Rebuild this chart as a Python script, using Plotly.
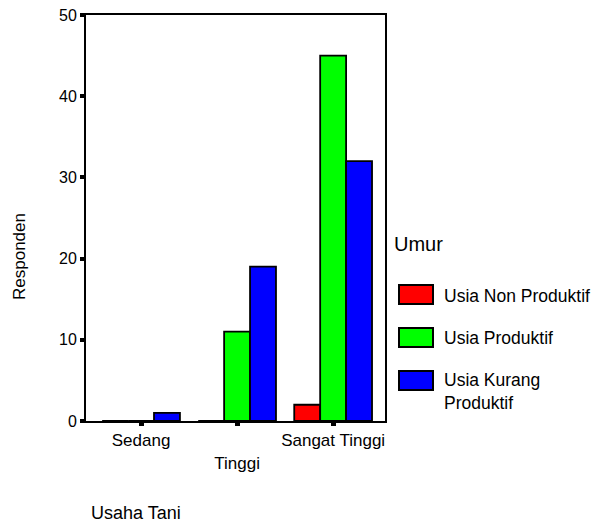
import plotly.graph_objects as go

categories = ["Sedang", "Tinggi", "Sangat Tinggi"]
tick_labels = ["Sedang", "<br>Tinggi", "Sangat Tinggi"]
series_names = ["Usia Non Produktif", "Usia Produktif", "Usia Kurang Produktif"]
legend_labels = ["Usia Non Produktif", "Usia Produktif", "Usia Kurang<br>Produktif"]
non_produktif = [0, 0, 2]
produktif = [0, 11, 45]
kurang_produktif = [1, 19, 32]
colors = ["#FF0000", "#00FF00", "#0000FF"]

FONT = "Arial, Liberation Sans, sans-serif"
W, H = 605, 525
L, R, T, B = 86, 385, 15, 421

def px(x):
    return (x - L) / (R - L)

def py(y):
    return (B - y) / (B - T)

fig = go.Figure()
for name, vals, c in zip(series_names, [non_produktif, produktif, kurang_produktif], colors):
    fig.add_trace(go.Bar(
        x=list(range(len(categories))), y=vals, name=name,
        marker=dict(color=c, line=dict(color="black", width=1.8)),
        showlegend=False, hoverinfo="skip",
    ))

fig.update_layout(
    width=W, height=H,
    margin=dict(l=L, r=W - R, t=T, b=H - B, pad=0, autoexpand=False),
    paper_bgcolor="white", plot_bgcolor="white",
    barmode="group", bargap=0.19, bargroupgap=0,
    font=dict(family=FONT, color="black", size=17),
)
fig.update_xaxes(
    range=[-0.573, 2.54], tickmode="array", tickvals=list(range(len(categories))),
    ticktext=tick_labels, ticks="outside", ticklen=3, tickwidth=5, tickcolor="black",
    showline=True, linecolor="black", linewidth=2, mirror=True, automargin=False,
    showgrid=False, zeroline=False, tickfont=dict(size=17, family=FONT),
)
fig.update_yaxes(
    range=[0, 50], dtick=10, ticks="outside", ticklen=4, tickwidth=4, tickcolor="black",
    showline=True, linecolor="black", linewidth=2, mirror=True, automargin=False,
    showgrid=False, zeroline=False, tickfont=dict(size=16, family=FONT),
)

# axis titles
fig.add_annotation(xref="paper", yref="paper", x=px(19), y=py(257), text="Responden",
                   textangle=-90, showarrow=False, font=dict(size=17, family=FONT),
                   xanchor="center", yanchor="middle")
fig.add_annotation(xref="paper", yref="paper", x=px(89), y=py(513), text="Usaha Tani",
                   showarrow=False, font=dict(size=18, family=FONT),
                   xanchor="left", yanchor="middle")

# legend
fig.add_annotation(xref="paper", yref="paper", x=px(392), y=py(244), text="Umur",
                   showarrow=False, font=dict(size=20, family=FONT),
                   xanchor="left", yanchor="middle")
sw_tops = [285, 328, 371]
txt_y = [296, 338, 380]
for i, (c, lab) in enumerate(zip(colors, legend_labels)):
    fig.add_shape(type="rect", xref="paper", yref="paper",
                  x0=px(399), x1=px(433), y0=py(sw_tops[i]), y1=py(sw_tops[i] + 19),
                  fillcolor=c, line=dict(color="black", width=2))
    fig.add_annotation(xref="paper", yref="paper", x=px(442), y=py(txt_y[i]),
                       text=lab, showarrow=False, align="left",
                       font=dict(size=17.5, family=FONT),
                       xanchor="left", yanchor="top" if "<br>" in lab else "middle",
                       yshift=12 if "<br>" in lab else 0)

fig.write_html("out.html", config={"displayModeBar": False, "staticPlot": True},
               post_script="document.body.style.margin='0';document.body.style.overflow='hidden';")
